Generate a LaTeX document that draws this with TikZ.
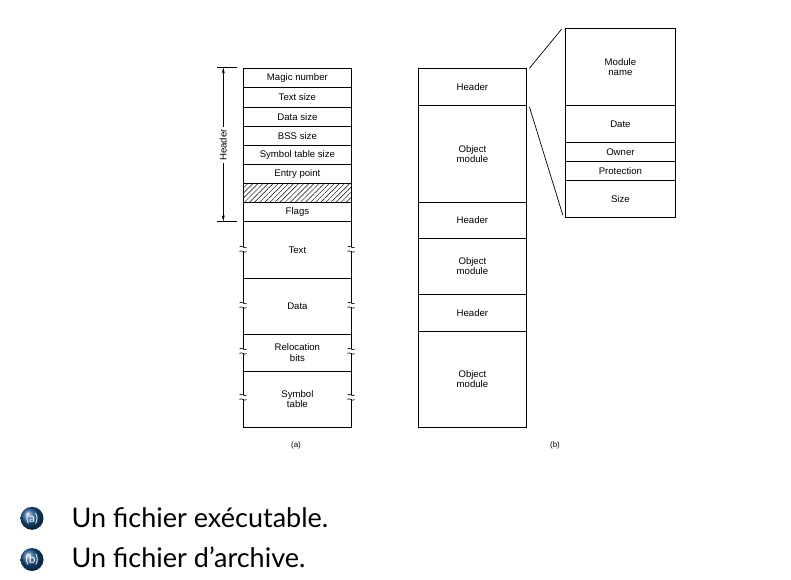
\documentclass[tikz,border=0pt]{standalone}
\usepackage{fontspec}
\setmainfont{Liberation Sans}
\newfontfamily\latofont{Lato}
\usetikzlibrary{patterns.meta,arrows.meta}
\newcommand\brkmark[2]{%
  \fill[white] (#1-1.2,#2-2.2) rectangle (#1+1.2,#2+2.2);
  \draw[line width=0.6pt] (#1-3.5,#2-2) .. controls (#1-1.5,#2-4.5) and (#1+1.5,#2+0.5) .. (#1+3.5,#2-2);
  \draw[line width=0.6pt] (#1-3.5,#2+2.5) .. controls (#1-1.5,#2) and (#1+1.5,#2+5) .. (#1+3.5,#2+2.5);
}
\begin{document}
\begin{tikzpicture}[x=1pt,y=-1pt,
  cell/.style={draw,line width=0.8pt,anchor=north west,inner sep=0pt,minimum width=108pt,
    align=center,font=\fontsize{9.6}{10.5}\selectfont},
  rcell/.style={cell,minimum width=110pt},
  lbl/.style={font=\fontsize{8}{9}\selectfont},
  conn/.style={line width=0.7pt},
  harr/.style={line width=0.7pt,-{Stealth[length=6pt,width=3pt]}},
  ballb/.style={circle,minimum size=23pt,inner sep=0pt,shading=ball,ball color={rgb,255:red,25;green,85;blue,140},
    text=white,font=\latofont\fontsize{12}{12}\selectfont},
  item/.style={anchor=base west,font=\latofont\fontsize{27}{29}\selectfont}]
\useasboundingbox (0,0) rectangle (791,579);
% ---- (a) executable
\node[cell,minimum height=19.3pt] (a1) at (243,68) {Magic number};
\node[cell,minimum height=19.3pt] (a2) at (243,87.3) {Text size};
\node[cell,minimum height=19.2pt] (a3) at (243,106.6) {Data size};
\node[cell,minimum height=19.2pt] (a4) at (243,125.8) {BSS size};
\node[cell,minimum height=19.2pt] (a5) at (243,145) {Symbol table size};
\node[cell,minimum height=19pt] (a6) at (243,164.2) {Entry point};
\node[cell,minimum height=19pt,pattern={Lines[angle=45,distance=3.6pt,line width=0.45pt]}] (a7) at (243,183.2) {};
\node[cell,minimum height=19pt] (a8) at (243,202.2) {Flags};
\node[cell,minimum height=56.8pt] (a9) at (243,221.2) {Text};
\node[cell,minimum height=56.5pt] (a10) at (243,277.5) {Data};
\node[cell,minimum height=36.5pt] (a11) at (243,334) {Relocation\\bits};
\node[cell,minimum height=56pt] (a12) at (243,370.5) {Symbol\\table};
\foreach \yy in {249,305,351,397}{\brkmark{243}{\yy}\brkmark{351}{\yy}}
% header dimension
\coordinate (htl) at (217,67.5);
\coordinate (htr) at (237,67.5);
\coordinate (hbl) at (217,221.2);
\coordinate (hbr) at (237,221.2);
\coordinate (ht) at (223.3,67.5);
\coordinate (hb) at (223.3,221.2);
\draw[conn] (htl) -- (htr);
\draw[conn] (hbl) -- (hbr);
\node[rotate=90,inner sep=2pt,font=\fontsize{9.6}{10}\selectfont] (hdr) at (223.3,145) {Header};
\draw[harr] (hdr.east) -- (ht);
\draw[harr] (hdr.west) -- (hb);
\node[lbl] (la) at (296,445.5) {(a)};
% ---- (b) archive
\node[cell,minimum height=37pt] (b1) at (418,68.3) {Header};
\node[cell,minimum height=96.5pt] (b2) at (418,105.3) {Object\\module};
\node[cell,minimum height=36pt] (b3) at (418,201.8) {Header};
\node[cell,minimum height=56.2pt] (b4) at (418,237.8) {Object\\module};
\node[cell,minimum height=36.5pt] (b5) at (418,294) {Header};
\node[cell,minimum height=96pt] (b6) at (418,330.5) {Object\\module};
\node[lbl] (lb) at (555,445.5) {(b)};
% ---- header detail
\node[rcell,minimum height=76.7pt] (r1) at (565,28.3) {Module\\name};
\node[rcell,minimum height=37.3pt] (r2) at (565,105) {Date};
\node[rcell,minimum height=18.7pt] (r3) at (565,142.3) {Owner};
\node[rcell,minimum height=19pt] (r4) at (565,161) {Protection};
\node[rcell,minimum height=36.7pt] (r5) at (565,180) {Size};
\draw[conn] ([xshift=2.6pt]b1.north east) -- ([shift={(-3.3pt,-0.7pt)}]r1.north west);
\draw[conn] ([shift={(2.6pt,-0.7pt)}]b1.south east) -- ([shift={(-2.3pt,2.7pt)}]r5.south west);
% ---- items
\node[ballb] (ba) at (32,518.3) {(a)};
\node[ballb] (bb) at (32,559.5) {(b)};
\node[item] (ta) at (68,527.8) {Un fichier exécutable.};
\node[item] (tb) at (68,567.8) {Un fichier d’archive.};
\end{tikzpicture}
\end{document}
